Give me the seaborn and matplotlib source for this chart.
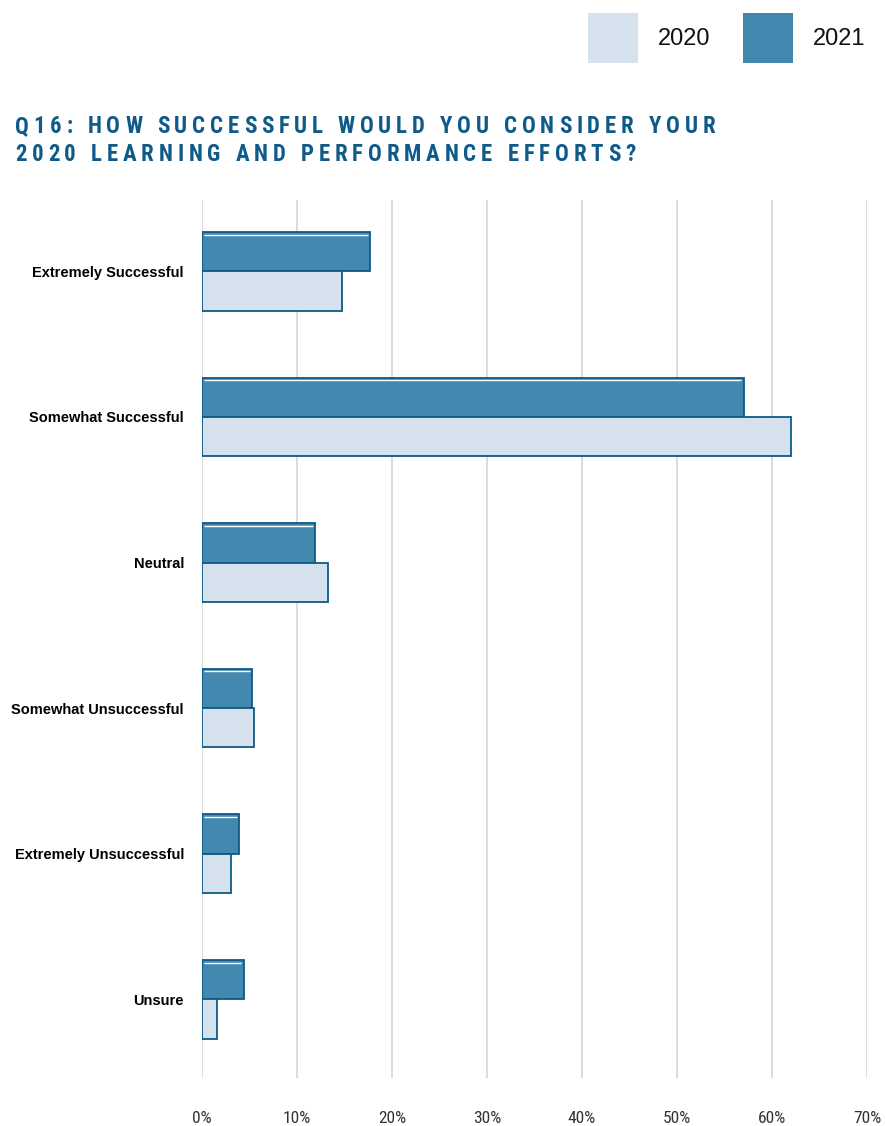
import matplotlib
matplotlib.use("Agg")
import matplotlib.pyplot as plt
import seaborn as sns
import pandas as pd
from matplotlib.patches import Rectangle
from matplotlib.textpath import text_to_path
from matplotlib.font_manager import FontProperties, findfont

# Survey responses (percent of respondents)
categories = ["Extremely Successful", "Somewhat Successful", "Neutral",
              "Somewhat Unsuccessful", "Extremely Unsuccessful", "Unsure"]
values_2020 = [14.7, 62.0, 13.3, 5.5, 3.0, 1.6]
values_2021 = [17.7, 57.0, 11.9, 5.3, 3.9, 4.4]
years = ["2021", "2020"]
x_ticks = [0, 10, 20, 30, 40, 50, 60, 70]
title_lines = ["Q16: HOW SUCCESSFUL WOULD YOU CONSIDER YOUR",
               "2020 LEARNING AND PERFORMANCE EFFORTS?"]

c2020 = "#d5e1ec"
c2021 = "#4388ae"
edge = "#0d5a87"
title_color = "#0e5a88"

sns.set_theme(style="white")
plt.rcParams["font.family"] = ["Liberation Sans", "DejaVu Sans"]


def first_font(candidates, **kw):
    for fam in candidates:
        try:
            findfont(FontProperties(family=fam, **kw), fallback_to_default=False)
            return fam
        except Exception:
            continue
    return "Liberation Sans"


narrow = first_font(["Liberation Sans Narrow", "Roboto Condensed",
                     "Open Sans Condensed", "DejaVu Sans Condensed"])

df = pd.DataFrame({
    "category": categories * 2,
    "value": values_2021 + values_2020,
    "year": ["2021"] * len(categories) + ["2020"] * len(categories),
})

W, H = 886, 1126
fig = plt.figure(figsize=(W / 100, H / 100), dpi=100)
ax = fig.add_axes([202 / W, 1 - 1078 / H, (867 - 202) / W, (1078 - 200) / H])

sns.barplot(data=df, x="value", y="category", hue="year", hue_order=years,
            order=categories, palette={"2020": c2020, "2021": c2021},
            orient="h", width=0.54, gap=0, edgecolor=edge, linewidth=1.3,
            saturation=1, legend=False, ax=ax)

# thin highlight just inside the top edge of the 2021 bars
for p in ax.patches[:len(categories)]:
    y_top = p.get_y() + 0.018
    ax.plot([p.get_x() + 0.25, p.get_x() + p.get_width() - 0.25], [y_top, y_top],
            color="white", linewidth=1.0, solid_capstyle="butt", zorder=3)

ax.set_xlim(0, 70)
ax.set_ylim(5.54, -0.49)
ax.set_xticks(x_ticks)
ax.set_xticklabels([f"{t}%" for t in x_ticks], fontsize=12.5, color="#333333",
                   family=[narrow, "Liberation Sans"])
ax.tick_params(axis="x", length=0, pad=24)
ax.tick_params(axis="y", length=0, pad=13)
for lbl in ax.get_yticklabels():
    lbl.set_fontweight("bold")
    lbl.set_fontsize(10.5)
    lbl.set_color("black")
ax.set_xlabel("")
ax.set_ylabel("")
ax.grid(axis="x", color="#dcdcdc", linewidth=1.4)
ax.set_axisbelow(True)
for s in ax.spines.values():
    s.set_visible(False)

# Letter-spaced title drawn character by character
tprop = FontProperties(family=narrow, weight="bold", size=16.5)
pt2px = 100 / 72


def char_widths(s):
    return [text_to_path.get_text_width_height_descent(ch, tprop, ismath=False)[0] * pt2px
            for ch in s]


w1 = char_widths(title_lines[0])
tracking = (700 - sum(w1)) / (len(title_lines[0]) - 1)
for line, base in zip(title_lines, [133, 161]):
    x = 15
    for ch, w in zip(line, char_widths(line)):
        fig.text(x / W, 1 - base / H, ch, fontproperties=tprop, color=title_color,
                 ha="left", va="baseline")
        x += w + tracking

# Legend boxes at the top right
for x0, col, lab in [(588, c2020, "2020"), (743, c2021, "2021")]:
    fig.add_artist(Rectangle((x0 / W, 1 - 63 / H), 50 / W, 50 / H,
                             transform=fig.transFigure, facecolor=col,
                             edgecolor="none"))
    fig.text((x0 + 70) / W, 1 - 39 / H, lab, fontsize=17, color="#111111",
             ha="left", va="center")

fig.savefig("out.png", dpi=100)
